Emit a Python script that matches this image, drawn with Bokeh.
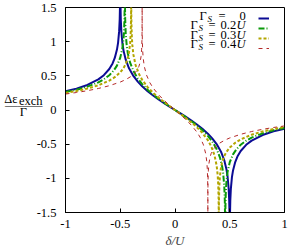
from bokeh.plotting import figure
from bokeh.models import FixedTicker, Label, Legend, LegendItem, LinearAxis
from bokeh.embed import file_html
from bokeh.resources import INLINE

# ---- data ----
delta_gs0 = [-1, -0.9, -0.8, -0.7, -0.65, -0.6, -0.57, -0.55, -0.53, -0.52, -0.51, -0.505, -0.502, -0.5005,
             -0.4995, -0.498, -0.495, -0.49, -0.48, -0.47, -0.45, -0.42, -0.38, -0.34, -0.3, -0.25, -0.2, -0.15,
             -0.1, -0.05, 0,
             0.05, 0.1, 0.15, 0.2, 0.25, 0.3, 0.34, 0.38, 0.42, 0.45, 0.47, 0.48, 0.49, 0.495, 0.498, 0.4995,
             0.5005, 0.502, 0.505, 0.51, 0.52, 0.53, 0.55, 0.57, 0.6, 0.65, 0.7, 0.8, 0.9, 1]
exch_gs0 = [0.2747, 0.3132, 0.3666, 0.4479, 0.5092, 0.5995, 0.6817, 0.7611, 0.8840, 0.9830, 1.1538, 1.3258, 1.5541, 1.9004,
            1.9001, 1.5531, 1.3233, 1.1488, 0.9730, 0.8690, 0.7361, 0.6106, 0.4981, 0.4146, 0.3466, 0.2747, 0.2118, 0.1548,
            0.1014, 0.0502, 0,
            -0.0502, -0.1014, -0.1548, -0.2118, -0.2747, -0.3466, -0.4146, -0.4981, -0.6106, -0.7361, -0.8690, -0.9730,
            -1.1488, -1.3233, -1.5531, -1.9001,
            -1.9004, -1.5541, -1.3258, -1.1538, -0.9830, -0.8840, -0.7611, -0.6817, -0.5995, -0.5092, -0.4479, -0.3666,
            -0.3132, -0.2747]

delta_gs02 = [-1, -0.9, -0.8, -0.7, -0.65, -0.6, -0.56, -0.53, -0.5, -0.48, -0.47, -0.465, -0.462, -0.46, -0.459, -0.4585,
              -0.458, -0.457, -0.455, -0.45, -0.44, -0.43, -0.41, -0.38, -0.34, -0.3, -0.25, -0.2, -0.15, -0.1, -0.05, 0,
              0.05, 0.1, 0.15, 0.2, 0.25, 0.3, 0.34, 0.38, 0.41, 0.43, 0.44, 0.45, 0.455, 0.457, 0.458,
              0.4585, 0.459, 0.46, 0.462, 0.465, 0.47, 0.48, 0.5, 0.53, 0.56, 0.6, 0.65, 0.7, 0.8, 0.9, 1]
exch_gs02 = [0.2630, 0.2965, 0.3411, 0.4047, 0.4492, 0.5089, 0.5764, 0.6491, 0.7647, 0.9074, 1.0446, 1.1692, 1.3027, 1.4768,
             1.6717, 1.928,
             1.913, 1.5496, 1.3304, 1.1142, 0.9278, 0.8235, 0.6927, 0.5703, 0.4605, 0.3786, 0.2962, 0.2267, 0.1648,
             0.1076, 0.0532, 0,
             -0.0532, -0.1076, -0.1648, -0.2267, -0.2962, -0.3786, -0.4605, -0.5703, -0.6927, -0.8235, -0.9278, -1.1142,
             -1.3304, -1.5496, -1.913,
             -1.928, -1.6717, -1.4768, -1.3027, -1.1692, -1.0446, -0.9074, -0.7647, -0.6491, -0.5764, -0.5089, -0.4492,
             -0.4047, -0.3411, -0.2965, -0.2630]

delta_gs03 = [-1, -0.9, -0.8, -0.7, -0.6, -0.55, -0.5, -0.47, -0.45, -0.43, -0.42, -0.41, -0.405, -0.402, -0.401, -0.4003,
              -0.40005, -0.39995, -0.3997, -0.399, -0.398, -0.395, -0.39, -0.38, -0.36, -0.33, -0.3, -0.25, -0.2, -0.15,
              -0.1, -0.05, 0,
              0.05, 0.1, 0.15, 0.2, 0.25, 0.3, 0.33, 0.36, 0.38, 0.39, 0.395, 0.398, 0.399, 0.3997, 0.39995,
              0.40005, 0.4003, 0.401, 0.402, 0.405, 0.41, 0.42, 0.43, 0.45, 0.47, 0.5, 0.55, 0.6, 0.7, 0.8, 0.9, 1]
exch_gs03 = [0.2498, 0.2780, 0.3138, 0.3615, 0.4304, 0.4799, 0.5504, 0.6133, 0.6737, 0.7670, 0.8427, 0.9749, 1.1096,
             1.2900, 1.4276, 1.6675, 2.025,
             2.025, 1.6665, 1.4248, 1.2851, 1.0990, 0.9562, 0.8101, 0.6587, 0.5296, 0.4422, 0.3355, 0.2524, 0.1816,
             0.1179, 0.0581, 0,
             -0.0581, -0.1179, -0.1816, -0.2524, -0.3355, -0.4422, -0.5296, -0.6587, -0.8101, -0.9562, -1.0990, -1.2851,
             -1.4248, -1.6665, -2.025,
             -2.025, -1.6675, -1.4276, -1.2900, -1.1096, -0.9749, -0.8427, -0.7670, -0.6737, -0.6133, -0.5504, -0.4799,
             -0.4304, -0.3615, -0.3138, -0.2780, -0.2498]

delta_gs04 = [-1, -0.9, -0.8, -0.7, -0.6, -0.5, -0.45, -0.4, -0.36, -0.33, -0.32, -0.31, -0.305, -0.302, -0.301, -0.3003,
              -0.30005, -0.300005, -0.299995, -0.29995, -0.2997, -0.299, -0.298, -0.295, -0.29, -0.28, -0.26, -0.23,
              -0.2, -0.15, -0.1, -0.05, 0,
              0.05, 0.1, 0.15, 0.2, 0.23, 0.26, 0.28, 0.29, 0.295, 0.298, 0.299, 0.2997, 0.29995, 0.299995,
              0.300005, 0.30005, 0.3003, 0.301, 0.302, 0.305, 0.31, 0.32, 0.33, 0.36, 0.4, 0.45, 0.5, 0.6, 0.7, 0.8,
              0.9, 1]
exch_gs04 = [0.2334, 0.2557, 0.2824, 0.3149, 0.3555, 0.4090, 0.4446, 0.4926, 0.5525, 0.6372, 0.6894, 0.7829, 0.8802,
             1.0130, 1.1150, 1.2942, 1.562, 1.9075,
             1.9075, 1.562, 1.2925, 1.1106, 1.0047, 0.8616, 0.7514, 0.6356, 0.5112, 0.4007, 0.3228, 0.2234, 0.1420,
             0.0692, 0,
             -0.0692, -0.1420, -0.2234, -0.3228, -0.4007, -0.5112, -0.6356, -0.7514, -0.8616, -1.0047, -1.1106,
             -1.2925, -1.562, -1.9075,
             -1.9075, -1.562, -1.2942, -1.1150, -1.0130, -0.8802, -0.7829, -0.6894, -0.6372, -0.5525, -0.4926,
             -0.4446, -0.4090, -0.3555, -0.3149, -0.2824, -0.2557, -0.2334]

x_ticks = [-1, -0.5, 0, 0.5, 1]
x_tick_labels = ["-1", "-0.5", "0", "0.5", "1"]
y_ticks = [-1.5, -1, -0.5, 0, 0.5, 1, 1.5]
y_tick_labels = ["-1.5", "-1", "-0.5", "0", "0.5", "1", "1.5"]

legend_values = ["0", "0.2", "0.3", "0.4"]

FONT = "Liberation Serif"
C_BLUE = "#0b0b94"
C_GREEN = "#0a9a0a"
C_YELLOW = "#b3a600"
C_RED = "#b52a2a"
NB = "\u00a0"

p = figure(width=291, height=250, x_range=(-1, 1), y_range=(-1.5, 1.5),
           output_backend="svg", toolbar_location=None,
           min_border_left=65, min_border_right=7, min_border_top=7, min_border_bottom=38)
p.background_fill_color = "white"
p.border_fill_color = "white"
p.outline_line_color = "black"
p.outline_line_width = 1
p.xgrid.visible = False
p.ygrid.visible = False

for ax in (p.xaxis, p.yaxis):
    ax.major_tick_in = 4
    ax.major_tick_out = 0
    ax.minor_tick_line_color = None
    ax.axis_line_color = "black"
    ax.major_tick_line_color = "black"
    ax.major_label_text_font = FONT
    ax.major_label_text_font_size = "12.5px"
    ax.major_label_text_color = "black"

p.xaxis.ticker = FixedTicker(ticks=x_ticks)
p.xaxis.major_label_overrides = {t: l for t, l in zip(x_ticks, x_tick_labels)}
p.yaxis.ticker = FixedTicker(ticks=y_ticks)
p.yaxis.major_label_overrides = {t: l for t, l in zip(y_ticks, y_tick_labels)}
p.xaxis.major_label_standoff = 7
p.yaxis.major_label_standoff = 9
p.xaxis.axis_label = "δ/U"
p.xaxis.axis_label_text_font = FONT
p.xaxis.axis_label_text_font_style = "italic"
p.xaxis.axis_label_text_font_size = "13px"
p.xaxis.axis_label_standoff = 2

# y-axis title as a fraction, written as the labels of one label-only axis left of the value axis
title_pos = [0.164, 0.125, 0.076, -0.025]
title_txt = ["Δε" + NB * 8, "exch", "———", "Γ" + NB * 5]
title_axis = LinearAxis(ticker=FixedTicker(ticks=title_pos),
                        major_label_overrides={t: s for t, s in zip(title_pos, title_txt)},
                        axis_line_color=None, major_tick_line_color=None, minor_tick_line_color=None,
                        major_tick_in=0, major_tick_out=0,
                        major_label_text_font=FONT, major_label_text_font_size="12.5px",
                        major_label_text_color="black", major_label_standoff=-9)
p.add_layout(title_axis, "left")

r0 = p.line(delta_gs0, exch_gs0, line_color=C_BLUE, line_width=2)
r2 = p.line(delta_gs02, exch_gs02, line_color=C_GREEN, line_width=2, line_dash="6 2 1 2")
r3 = p.line(delta_gs03, exch_gs03, line_color=C_YELLOW, line_width=2, line_dash="3 2")
r4 = p.line(delta_gs04, exch_gs04, line_color=C_RED, line_width=1, line_dash="4 4")

legend = Legend(items=[LegendItem(label=" ", renderers=[r]) for r in (r0, r2, r3, r4)],
                location=(193, 159), orientation="vertical",
                glyph_width=11, glyph_height=10, label_height=10, label_width=0,
                label_standoff=0, label_text_font_size="1px", spacing=0,
                padding=0, margin=0, border_line_alpha=0, background_fill_alpha=0)
p.add_layout(legend)


def lab(x, y, text, size="12.5px", style="normal", align="left"):
    p.add_layout(Label(x=x, y=y, x_units="screen", y_units="screen", text=text,
                       text_font=FONT, text_font_size=size, text_font_style=style,
                       text_align=align, text_baseline="middle", text_color="black"))


# legend texts (positions relative to the frame's lower-left corner)
row_y = [197, 187.5, 178, 168.5]
for i, v in enumerate(legend_values):
    y = row_y[i]
    if v == "0":
        x0 = 134
        lab(x0, y, "Γ")
        lab(x0 + 8, y - 3, "S", size="9px", style="italic")
        lab(x0 + 19, y, "=")
        lab(x0 + 40, y, "0")
    else:
        x0 = 125
        lab(x0, y, "Γ")
        lab(x0 + 8, y - 3, "S", size="9px", style="italic")
        lab(x0 + 18, y, "=")
        lab(x0 + 30, y, v)
        lab(x0 + 46, y, "U", style="italic")

open("out.html", "w").write(file_html(p, INLINE))
